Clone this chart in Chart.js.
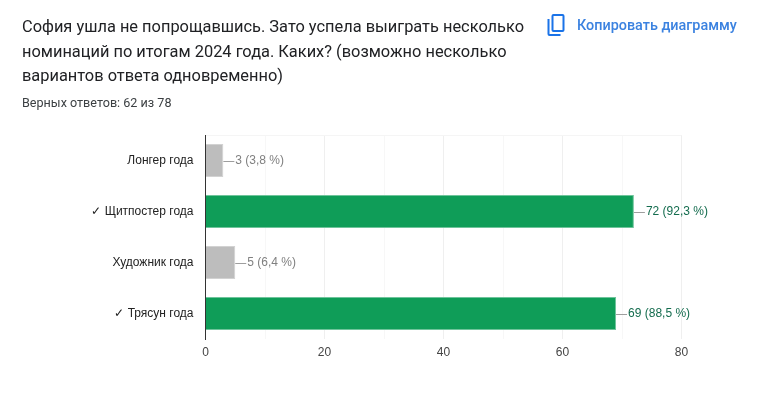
<!DOCTYPE html>
<html>
<head>
<meta charset="utf-8">
<style>
  html, body { margin: 0; padding: 0; background: #fff; }
  body { width: 764px; height: 396px; overflow: hidden; position: relative; font-family: Roboto, sans-serif; }
  #title { position: absolute; left: 22px; top: 15px; width: 510px; font-size: 16.4px; line-height: 24.5px; color: #202124; }
  #sub { position: absolute; left: 22px; top: 96px; font-size: 12.6px; line-height: 14px; color: #3c4043; }
  #copy { position: absolute; left: 577px; top: 17px; font-size: 14.4px; line-height: 18px; font-weight: 500; color: #3b82e0; }
  #icon { position: absolute; left: 546px; top: 13px; }
  canvas { position: absolute; left: 0; top: 0; }
</style>
</head>
<body>
<canvas id="answersChart" width="764" height="396"></canvas>
<div id="title">София ушла не попрощавшись. Зато успела выиграть несколько<br>номинаций по итогам 2024 года. Каких? (возможно несколько<br>вариантов ответа одновременно)</div>
<div id="sub">Верных ответов: 62 из 78</div>
<svg id="icon" width="22" height="24" viewBox="0 0 22 24" fill="none" stroke="#1a73e8" stroke-width="2">
  <rect x="6.5" y="2" width="11" height="16" rx="1"></rect>
  <path d="M2.5 6v15a1 1 0 0 0 1 1h11"></path>
</svg>
<div id="copy">Копировать диаграмму</div>

<script src="https://cdn.jsdelivr.net/npm/chart.js"></script>
<script>
var categories = ['Лонгер года', '✓ Щитпостер года', 'Художник года', '✓ Трясун года'];
var counts = [3, 72, 5, 69];
var percents = ['3,8', '92,3', '6,4', '88,5'];
var correct = [false, true, false, true];

var labelFont = '"Liberation Sans", Arial, sans-serif';

var labelPlugin = {
    id: 'countLabels',
    afterDatasetsDraw: function(chart) {
        var ctx = chart.ctx;
        chart.getDatasetMeta(0).data.forEach(function(bar, i) {
            var y = Math.round(bar.y) + 0.5;
            ctx.strokeStyle = '#9e9e9e';
            ctx.lineWidth = 1;
            ctx.beginPath();
            ctx.moveTo(bar.x, y);
            ctx.lineTo(bar.x + 11, y);
            ctx.stroke();
            ctx.font = '12px ' + labelFont;
            ctx.fillStyle = correct[i] ? '#146c4e' : '#808080';
            ctx.textAlign = 'left';
            ctx.textBaseline = 'middle';
            // text sits a pixel above the leader line
            ctx.fillText(counts[i] + ' (' + percents[i] + ' %)', bar.x + 12, y - 1);
        });
    }
};

new Chart(document.getElementById('answersChart').getContext('2d'), {
    type: 'bar',
    data: {
        labels: categories,
        datasets: [{
            data: counts,
            backgroundColor: correct.map(c => c ? '#0f9d58' : '#bdbdbd'),
            borderColor: correct.map(c => c ? '#6fc49b' : '#d2d2d2'),
            borderWidth: 1,
            barPercentage: 0.65,
            categoryPercentage: 1
        }]
    },
    options: {
        indexAxis: 'y',
        responsive: false,
        animation: false,
        layout: { padding: { top: 135, right: 82.5, bottom: 0, left: 0 } },
        plugins: { legend: { display: false }, tooltip: { enabled: false } },
        scales: {
            x: {
                min: 0,
                max: 80,
                afterFit: function(scale) { scale.height = 57; },
                ticks: {
                    stepSize: 10,
                    autoSkip: false,
                    maxRotation: 0,
                    padding: 6,
                    color: '#444444',
                    font: { family: labelFont, size: 12 },
                    callback: function(v) { return v % 20 === 0 ? v : ''; }
                },
                grid: {
                    drawTicks: false,
                    color: function(c) { return c.tick.value % 20 === 0 ? '#efefef' : '#f7f7f7'; }
                },
                border: { display: false }
            },
            y: {
                afterFit: function(scale) { scale.width = 205.5; },
                ticks: {
                    padding: 12,
                    color: '#222222',
                    font: { family: labelFont, size: 12 }
                },
                grid: {
                    drawTicks: false,
                    color: function(c) { return c.index === 0 || c.index === categories.length ? '#f5f5f5' : 'rgba(0,0,0,0)'; }
                },
                border: { display: true, color: '#333333', width: 1 }
            }
        }
    },
    plugins: [labelPlugin]
});
</script>
</body>
</html>
